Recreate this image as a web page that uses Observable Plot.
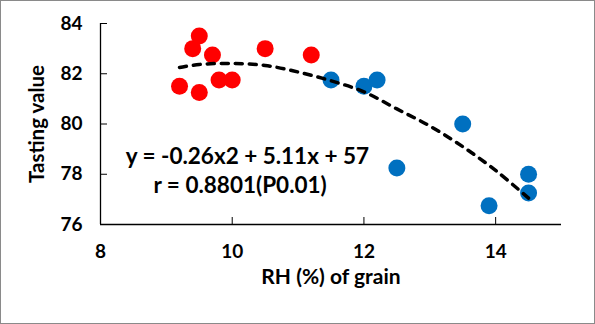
<!DOCTYPE html>
<html>
<head>
<meta charset="utf-8">
<script src="https://cdn.jsdelivr.net/npm/d3@7"></script>
<script src="https://cdn.jsdelivr.net/npm/@observablehq/plot@0.6"></script>
<style>
  html, body { margin: 0; padding: 0; background: #fff; }
  #chart svg { display: block; outline: 1px solid #8a8a8a; outline-offset: -1px; }
</style>
</head>
<body>
<div id="chart"></div>
<script>
// Red group (low RH)
const redRH = [9.2, 9.4, 9.5, 9.5, 9.7, 9.8, 10.0, 10.5, 11.2];
const redTaste = [81.5, 83.0, 83.5, 81.25, 82.75, 81.75, 81.75, 83.0, 82.75];
// Blue group (high RH)
const blueRH = [11.5, 12.0, 12.2, 12.5, 13.5, 13.9, 14.5, 14.5];
const blueTaste = [81.75, 81.5, 81.75, 78.25, 80.0, 76.75, 78.0, 77.25];
// Fitted trend curve
const curveRH = [9.2, 9.5, 10.0, 10.5, 11.0, 11.5, 12.0, 12.5, 13.0, 13.5, 14.0, 14.5];
const curveTaste = [82.25, 82.37, 82.41, 82.33, 82.07, 81.72, 81.28, 80.6, 79.92, 79.1, 78.15, 77.05];
// Tick values
const xTicks = [8, 10, 12, 14];
const yTicks = [76, 78, 80, 82, 84];
// Titles
const yTitle = "Tasting value";
const xTitle = "RH (%) of grain";
// Annotation
const annoText = ["y = -0.26x2 + 5.11x + 57", "r = 0.8801(P0.01)"];
const annoRH = [10.23, 10.12];
const annoTaste = [78.7, 77.55];

const red = redRH.map((x, i) => ({x, y: redTaste[i]}));
const blue = blueRH.map((x, i) => ({x, y: blueTaste[i]}));
const curve = curveRH.map((x, i) => ({x, y: curveTaste[i]}));
const anno = annoText.map((t, i) => ({t, x: annoRH[i], y: annoTaste[i]}));

const font = "Lato, 'Open Sans', sans-serif";

const chart = Plot.plot({
  width: 595,
  height: 324,
  marginLeft: 100,
  marginRight: 34,
  marginTop: 23,
  marginBottom: 100,
  style: {fontFamily: font, background: "#fff", color: "#000"},
  x: {domain: [8, 15]},
  y: {domain: [76, 84]},
  marks: [
    // tick labels
    Plot.axisY({ticks: yTicks, tickSize: 0, tickPadding: 18, fontSize: 19, fontWeight: "bold",
      tickFormat: "d", label: null}),
    Plot.axisX({ticks: xTicks, tickSize: 0, tickPadding: 20, fontSize: 19, fontWeight: "bold",
      tickFormat: "d", label: null}),
    // inward tick marks
    Plot.axisY({ticks: yTicks, tickSize: 7, dx: 7, tickFormat: () => "", label: null}),
    Plot.axisX({ticks: xTicks, tickSize: 7, dy: -7, tickFormat: () => "", label: null}),
    // axis titles
    Plot.text([yTitle], {frameAnchor: "left", textAnchor: "middle", dx: -63, rotate: -90,
      fontSize: 20.5, fontWeight: "bold", fill: "#000"}),
    Plot.text([xTitle], {frameAnchor: "bottom", textAnchor: "middle", dy: 59,
      fontSize: 21, fontWeight: "bold", fill: "#000"}),
    // axis lines
    Plot.ruleX([8], {stroke: "#000", strokeWidth: 1.3}),
    Plot.ruleY([76], {stroke: "#000", strokeWidth: 1.3}),
    // points
    Plot.dot(red, {x: "x", y: "y", r: 8.5, fill: "#FF0000", stroke: null}),
    Plot.dot(blue, {x: "x", y: "y", r: 8.5, fill: "#0070C0", stroke: null}),
    // trend line
    Plot.line(curve, {x: "x", y: "y", stroke: "#000", strokeWidth: 3.5, strokeDasharray: "7,7",
      strokeLinecap: "round", curve: "catmull-rom"}),
    // annotation
    Plot.text(anno, {x: "x", y: "y", text: "t", fontSize: 22.5, fontWeight: "bold", fill: "#000"})
  ]
});
document.getElementById("chart").appendChild(chart);
</script>
</body>
</html>
